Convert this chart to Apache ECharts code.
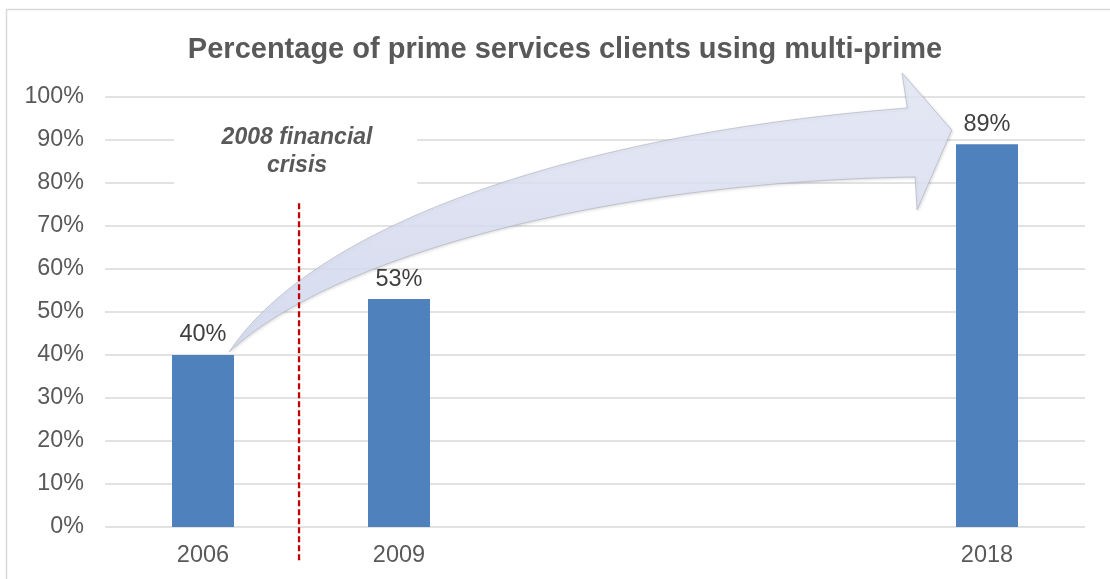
<!DOCTYPE html>
<html>
<head>
<meta charset="utf-8">
<script src="https://cdn.jsdelivr.net/npm/echarts@6/dist/echarts.min.js"></script>
<style>
  html, body { margin: 0; padding: 0; background: #ffffff; }
  #chart { width: 1110px; height: 579px; }
</style>
</head>
<body>
<div id="chart"></div>
<script>
// Survey years and share of prime services clients using more than one prime broker (%)
const years = [2006, 2009, 2018];
const shares = [40, 53, 89];
const yTickValues = [0, 10, 20, 30, 40, 50, 60, 70, 80, 90, 100];

const titleText = 'Percentage of prime services clients using multi-prime';
const crisisText = '2008 financial\ncrisis';
const crisisYear = 2007.47;

const FONT = "'Liberation Sans', Arial, Helvetica, sans-serif";

// Growth arrow outline, in axis units [year, percent]
const arrowGeom = {
  start: [2006.40, 40.70],
  upperCtrl1: [2007.64, 69.07],
  upperCtrl2: [2011.46, 91.16],
  upperEnd: [2016.78, 97.44],
  headTop: [2016.70, 105.58],
  headTip: [2017.46, 92.33],
  headBottom: [2016.93, 73.72],
  lowerEnd: [2016.90, 81.40],
  lowerCtrl2: [2012.08, 80.23],
  lowerCtrl1: [2007.94, 62.56]
};

const chart = echarts.init(document.getElementById('chart'), null, { renderer: 'canvas' });

chart.setOption({
  animation: false,
  backgroundColor: '#ffffff',
  title: {
    text: titleText,
    left: 560,
    top: 30,
    textAlign: 'center',
    textStyle: { fontFamily: FONT, fontSize: 29, fontWeight: 'bold', color: '#595959' }
  },
  grid: { left: 105, right: 25, top: 97, bottom: 52, containLabel: false },
  xAxis: {
    type: 'value',
    min: 2004.5,
    max: 2019.5,
    axisLine: { show: false },
    axisTick: { show: false },
    splitLine: { show: false },
    axisLabel: {
      customValues: years,
      margin: 17,
      fontFamily: FONT,
      fontSize: 23.5,
      color: '#595959',
      formatter: v => String(v)
    }
  },
  yAxis: {
    type: 'value',
    min: 0,
    max: 100,
    interval: 10,
    axisLine: { show: false },
    axisTick: { show: false },
    splitLine: { lineStyle: { color: '#d9d9d9', width: 1.5 } },
    axisLabel: {
      margin: 21,
      fontFamily: FONT,
      fontSize: 23.3,
      color: '#595959',
      formatter: v => (yTickValues.includes(v) ? v + '%' : '')
    }
  },
  series: [{
    type: 'bar',
    barWidth: 62,
    data: years.map((y, i) => [y, shares[i]]),
    itemStyle: { color: '#4f81bd' },
    label: {
      show: true,
      position: 'top',
      distance: 8,
      fontFamily: FONT,
      fontSize: 23.5,
      color: '#404040',
      formatter: p => p.value[1] + '%'
    },
    z: 2
  }]
});

function px(pt) {
  return chart.convertToPixel({ xAxisIndex: 0, yAxisIndex: 0 }, pt);
}

// Points along a cubic Bezier segment (first point excluded)
function cubicPoints(p0, p1, p2, p3, steps) {
  const out = [];
  for (let i = 1; i <= steps; i++) {
    const t = i / steps, u = 1 - t;
    const a = u * u * u, b = 3 * u * u * t, c = 3 * u * t * t, d = t * t * t;
    out.push([
      a * p0[0] + b * p1[0] + c * p2[0] + d * p3[0],
      a * p0[1] + b * p1[1] + c * p2[1] + d * p3[1]
    ]);
  }
  return out;
}

function drawAnnotations() {
  const P = {};
  Object.keys(arrowGeom).forEach(k => { P[k] = px(arrowGeom[k]); });

  const arrowPoints = [P.start]
    .concat(cubicPoints(P.start, P.upperCtrl1, P.upperCtrl2, P.upperEnd, 60))
    .concat([P.headTop, P.headTip, P.headBottom, P.lowerEnd])
    .concat(cubicPoints(P.lowerEnd, P.lowerCtrl2, P.lowerCtrl1, P.start, 60));

  const lineTop = px([crisisYear, 75.3]);
  const lineBottom = px([crisisYear, -8]);
  const textAnchor = px([crisisYear, 87.5]);

  chart.setOption({
    graphic: [
      {
        type: 'rect',
        silent: true,
        z: 0,
        shape: { x: 6.5, y: 9.5, width: 1300, height: 800 },
        style: { fill: 'none', stroke: '#d9d9d9', lineWidth: 1.5 }
      },
      {
        type: 'polygon',
        silent: true,
        z: 3,
        shape: { points: arrowPoints },
        style: {
          fill: {
            type: 'linear', x: 0, y: 0, x2: 0, y2: 1,
            colorStops: [
              { offset: 0, color: 'rgba(230,234,249,0.82)' },
              { offset: 1, color: 'rgba(211,218,242,0.82)' }
            ]
          },
          stroke: 'rgba(175,177,190,0.65)',
          lineWidth: 1,
          lineJoin: 'miter',
          shadowBlur: 3,
          shadowColor: 'rgba(0,0,0,0.15)',
          shadowOffsetX: 1,
          shadowOffsetY: 1
        }
      },
      {
        type: 'line',
        silent: true,
        z: 4,
        shape: { x1: lineTop[0], y1: lineTop[1], x2: lineBottom[0], y2: lineBottom[1] },
        style: { stroke: '#c00000', lineWidth: 2.3, lineDash: [6, 3] }
      },
      {
        type: 'rect',
        silent: true,
        z: 5,
        shape: { x: textAnchor[0] - 125, y: textAnchor[1] - 40, width: 243, height: 86 },
        style: { fill: '#ffffff' }
      },
      {
        type: 'text',
        silent: true,
        z: 6,
        x: textAnchor[0] - 2,
        y: textAnchor[1] + 1,
        style: {
          text: crisisText,
          fontFamily: FONT,
          fontSize: 23,
          fontWeight: 'bold',
          fontStyle: 'italic',
          fill: '#595959',
          lineHeight: 28,
          align: 'center',
          verticalAlign: 'middle'
        }
      }
    ]
  });
}

drawAnnotations();
</script>
</body>
</html>
